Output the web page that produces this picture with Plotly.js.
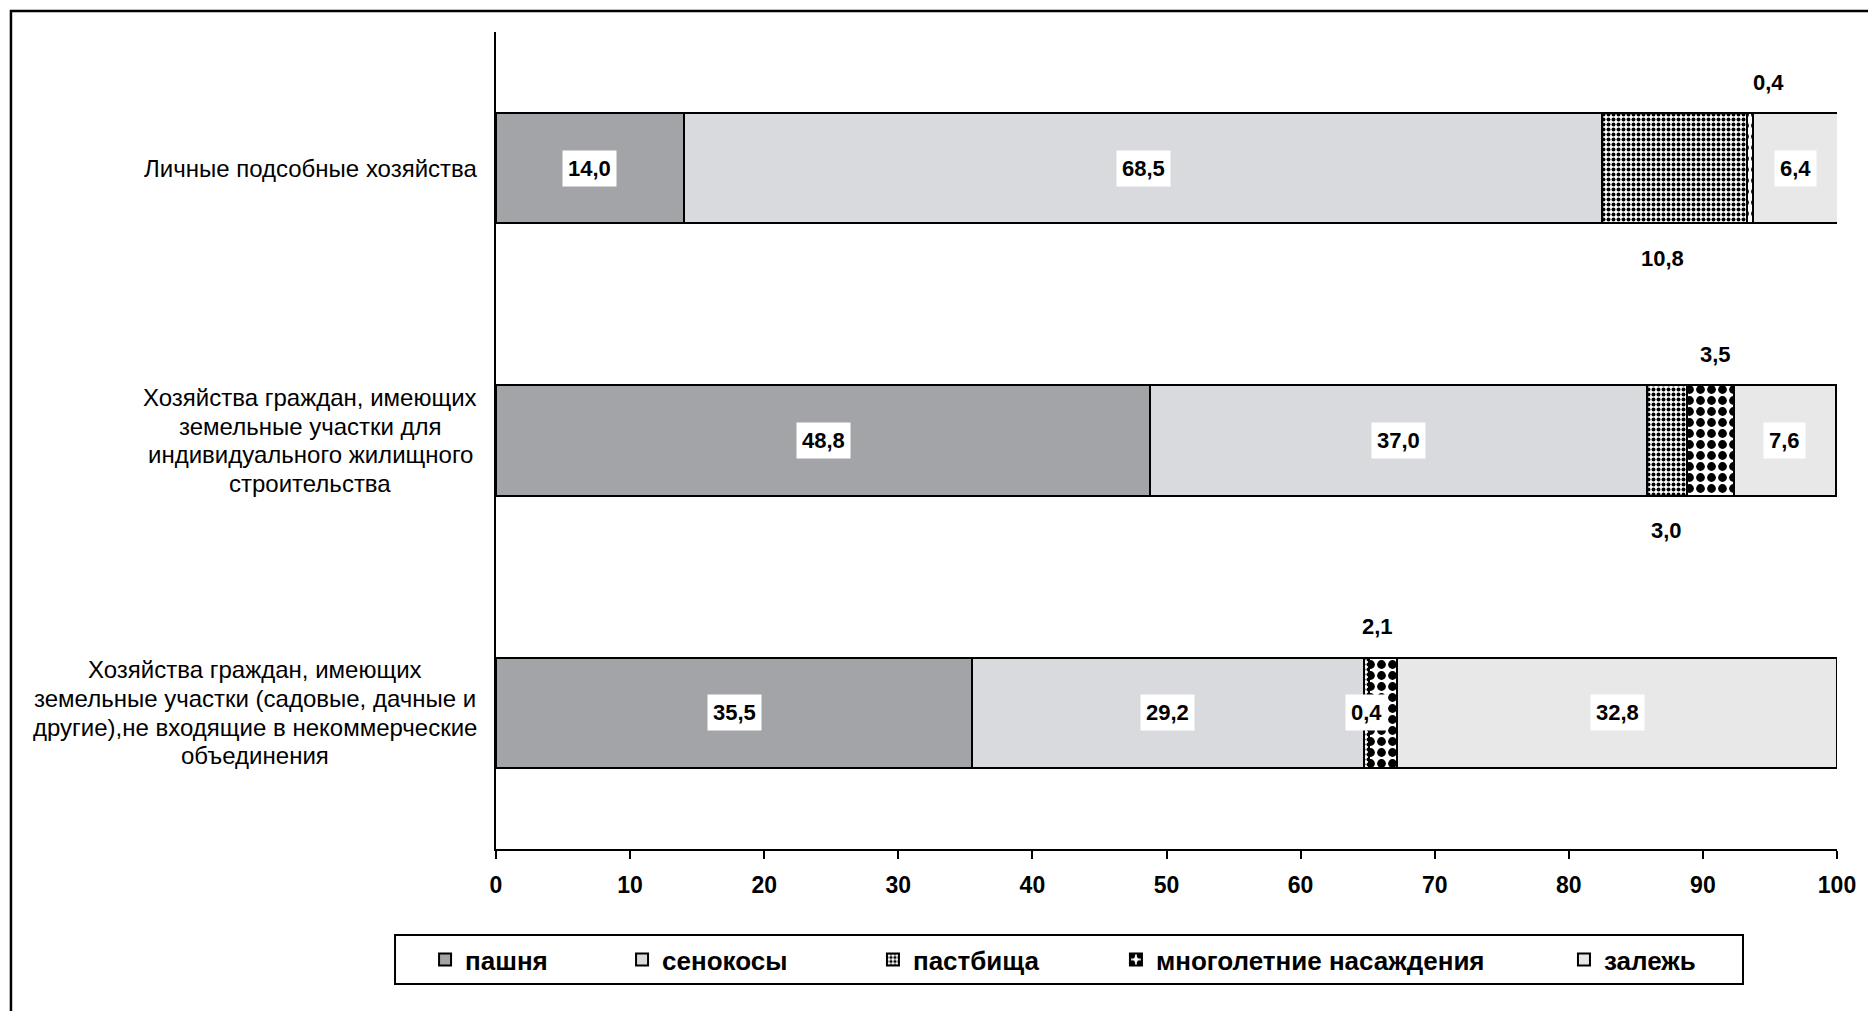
<!DOCTYPE html>
<html>
<head>
<meta charset="utf-8">
<script src="https://cdn.plot.ly/plotly-3.0.1.min.js"></script>
<style>
  html, body { margin: 0; padding: 0; background: #ffffff; }
  #chart { width: 1868px; height: 1011px; }
</style>
</head>
<body>
<div id="chart"></div>
<script>
// ---- data ----
const categories = [
  "Личные подсобные хозяйства",
  "Хозяйства граждан, имеющих<br>земельные участки для<br>индивидуального жилищного<br>строительства",
  "Хозяйства граждан, имеющих<br>земельные участки (садовые, дачные и<br>другие),не входящие в некоммерческие<br>объединения"
];
const seriesNames = ["пашня", "сенокосы", "пастбища", "многолетние насаждения", "залежь"];
const pashnya     = [14.0, 48.8, 35.5];
const senokosy    = [68.5, 37.0, 29.2];
const pastbishcha = [10.8, 3.0, 0.4];
const mnogoletnie = [0.4, 3.5, 2.1];
const zalezh      = [6.4, 7.6, 32.8];
const xTicks = [0, 10, 20, 30, 40, 50, 60, 70, 80, 90, 100];

// ---- styling ----
const FONT = "Liberation Sans, Arial, sans-serif";
const CAT_FONT_SIZE = 24;
const CAT_LINE_GAP = 28.6;
const seriesValues = [pashnya, senokosy, pastbishcha, mnogoletnie, zalezh];
const seriesStyle = [
  {color: "#a3a4a8"},
  {color: "#d9dadd"},
  {color: "#000000", pattern: {shape: ".", fgcolor: "#000000", bgcolor: "#ffffff", size: 5, solidity: 0.5, fillmode: "replace"}},
  {color: "#000000", pattern: {shape: ".", fgcolor: "#000000", bgcolor: "#ffffff", size: 11, solidity: 0.5, fillmode: "replace"}},
  {color: "#e8e8e8"}
];
// label placement per series / category
const labelPlace = [
  ["in", "in", "in"],
  ["in", "in", "in"],
  ["below", "below", "in"],
  ["above", "above", "above"],
  ["in", "in", "in"]
];
const labelXShift = [
  [0, 0, 0],
  [0, 0, 0],
  [-12, 0, 0],
  [19, 5, -6],
  [0, 0, 0]
];
const legendX = [-0.0529, 0.094, 0.2811, 0.4623, 0.7964];

const fmt = v => v.toFixed(1).replace(".", ",");

const traces = seriesValues.map((vals, i) => {
  const m = {color: seriesStyle[i].color, line: {color: "#000000", width: 2}};
  if (seriesStyle[i].pattern) m.pattern = seriesStyle[i].pattern;
  return {
    type: "bar",
    orientation: "h",
    name: seriesNames[i],
    x: vals,
    y: categories,
    marker: m,
    legend: i === 0 ? "legend" : "legend" + (i + 1),
    hoverinfo: "x+name"
  };
});

// text measurement for centred multi-line category labels
const ctx = document.createElement("canvas").getContext("2d");
ctx.font = CAT_FONT_SIZE + "px 'Liberation Sans', Arial, sans-serif";

const annotations = [];
categories.forEach((cat, j) => {
  let cum = 0;
  seriesValues.forEach((vals, i) => {
    const v = vals[j];
    const center = cum + v / 2;
    cum += v;
    const place = labelPlace[i][j];
    const a = {
      x: center, y: cat, xref: "x", yref: "y",
      text: "<b>" + fmt(v) + "</b>",
      showarrow: false,
      font: {family: FONT, size: 22, color: "#000000"},
      xshift: labelXShift[i][j]
    };
    if (place === "in") {
      a.bgcolor = "#ffffff";
      a.borderpad = 5;
    } else if (place === "above") {
      a.yshift = 86;
    } else {
      a.yshift = -90;
    }
    annotations.push(a);
  });
  const lines = cat.split("<br>");
  const maxW = Math.max(...lines.map(l => ctx.measureText(l).width));
  const mid = (lines.length - 1) / 2;
  lines.forEach((line, k) => {
    annotations.push({
      x: 0, y: cat, xref: "paper", yref: "y",
      xanchor: "center", yanchor: "middle",
      xshift: -19 - maxW / 2,
      yshift: (mid - k) * CAT_LINE_GAP,
      text: line, showarrow: false,
      font: {family: FONT, size: CAT_FONT_SIZE, color: "#000000"}
    });
  });
});

const layout = {
  width: 1868, height: 1011,
  margin: {l: 496, r: 31, t: 32, b: 162},
  paper_bgcolor: "#ffffff",
  plot_bgcolor: "#ffffff",
  barmode: "stack",
  bargap: 0.596,
  showlegend: true,
  font: {family: FONT, color: "#000000"},
  xaxis: {
    range: [0, 100],
    tickvals: xTicks,
    ticktext: xTicks.map(String),
    ticks: "outside", ticklen: 8, tickwidth: 2, tickcolor: "#000000",
    showline: true, linecolor: "#000000", linewidth: 2,
    showgrid: false, zeroline: false,
    tickfont: {family: FONT, size: 23, color: "#000000", weight: "bold"},
    ticklabelstandoff: 6,
    fixedrange: true
  },
  yaxis: {
    type: "category",
    categoryorder: "array",
    categoryarray: categories,
    range: [2.5, -0.5],
    showline: true, linecolor: "#000000", linewidth: 2,
    ticks: "", showticklabels: false,
    showgrid: false, zeroline: false,
    fixedrange: true
  },
  annotations: annotations,
  shapes: [
    {type: "rect", xref: "paper", yref: "paper",
     x0: -0.3617, x1: 1.05, y0: -0.25, y1: 1.0257,
     line: {color: "#000000", width: 2.5}, fillcolor: "rgba(0,0,0,0)"},
    {type: "rect", xref: "paper", yref: "paper",
     x0: -0.0753, x1: 0.9299, y0: -0.1652, y1: -0.1053,
     line: {color: "#000000", width: 2}, fillcolor: "rgba(0,0,0,0)"}
  ]
};

legendX.forEach((lx, i) => {
  const key = i === 0 ? "legend" : "legend" + (i + 1);
  layout[key] = {
    x: lx, y: -0.1353, xanchor: "left", yanchor: "middle",
    orientation: "h",
    bgcolor: "rgba(0,0,0,0)", borderwidth: 0,
    font: {family: FONT, size: 26, color: "#000000", weight: "bold"},
    itemclick: false, itemdoubleclick: false
  };
});

Plotly.newPlot("chart", traces, layout, {displayModeBar: false, staticPlot: true});
</script>
</body>
</html>
